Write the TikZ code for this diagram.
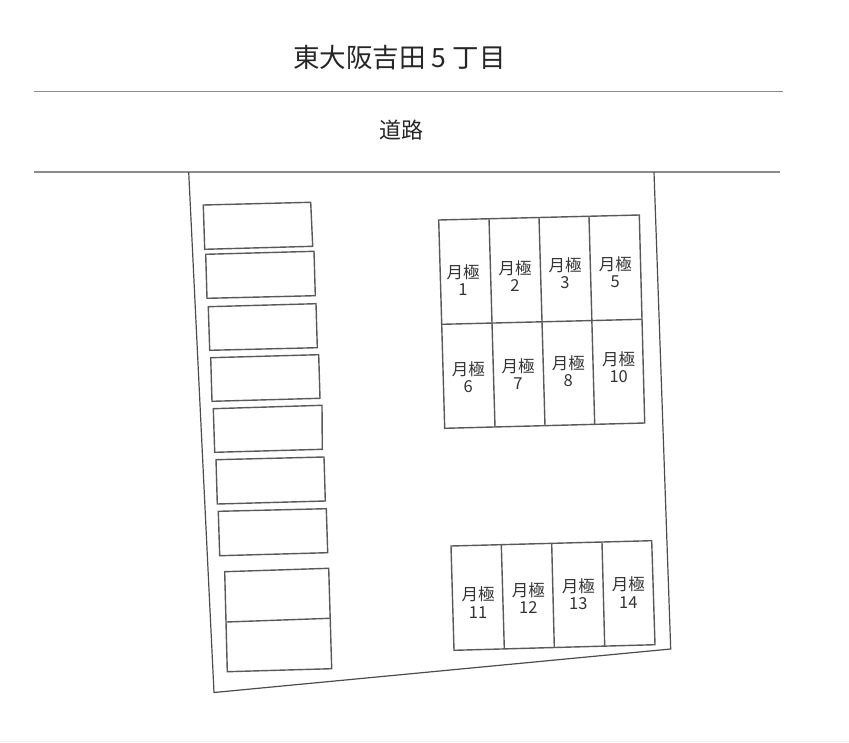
\documentclass[tikz,border=0pt]{standalone}
\usepackage{fontspec}
\newfontfamily\jpfont{Noto Sans CJK JP}
\begin{document}
\begin{tikzpicture}[x=1pt, y=-1pt]
\tikzstyle{road} = [draw = black!45, line width = 1.6pt]
\tikzstyle{plot} = [draw = black!70, line width = 1.2pt]
\tikzstyle{space} = [draw = black!65, line width = 1.4pt]
\tikzstyle{monthly} = [align = center, inner sep = 0pt, text = black!80, font = \jpfont\fontsize{16.5}{17.3}\selectfont]
\useasboundingbox (0, 0) rectangle (849, 742);
\fill[black!6] (0, 740.5) rectangle (849, 742);
\node[font = \jpfont\fontsize{26.5}{30}\selectfont, text = black!85, inner sep = 0pt] (title) at (399.5, 57.5) {東大阪吉田 5 丁目};
\node[font = \jpfont\fontsize{22}{26}\selectfont, text = black!85, inner sep = 0pt] (way) at (401, 130.5) {道路};
\draw[road] (34, 91.5)--(783, 91.5);
\draw[road] (34, 171.8)--(780, 171.8);
\draw[plot] (188.7, 172)--(214, 692.5)--(670.7, 649)--(654, 172);
% left spaces
\draw[space] (203.3, 205)--(310.7, 202.3)--(312.7, 246.3)--(204.7, 249.3)--cycle;
\draw[space] (205.7, 254.3)--(314, 251.3)--(315.3, 295.7)--(207, 298.3)--cycle;
\draw[space] (208.3, 306.7)--(316, 303.7)--(317.3, 347.7)--(209.7, 350.3)--cycle;
\draw[space] (210.7, 357.7)--(318.7, 354.7)--(320, 398.3)--(212, 401.3)--cycle;
\draw[space] (213.3, 408.7)--(322, 405.3)--(322.3, 449.3)--(214.7, 452.3)--cycle;
\draw[space] (216, 459.7)--(324, 457)--(325.3, 501)--(217.3, 504)--cycle;
\draw[space] (218.3, 511.3)--(326.3, 508.7)--(327.7, 552.7)--(219.7, 555.7)--cycle;
\draw[space] (224.7, 571.7)--(328.7, 568.3)--(331.7, 668.7)--(227.3, 671.7)--cycle;
\draw[space] (226.3, 622)--(329.7, 618.3);
% upper block
\draw[space] (438.7, 220)--(639.3, 215)--(644.7, 423)--(444.7, 428.3)--cycle;
\draw[space] (442, 324.3)--(642, 319.3);
\draw[space] (489, 218.7)--(495, 427);
\draw[space] (539, 217.3)--(545, 425.7);
\draw[space] (589, 216.3)--(594.7, 424.3);
% lower block
\draw[space] (451, 546)--(651.7, 540.7)--(655, 644.7)--(454, 650.3)--cycle;
\draw[space] (501.3, 544.7)--(504.3, 648.7);
\draw[space] (551.7, 543.7)--(554.3, 647.3);
\draw[space] (602, 542.3)--(604.7, 646);
% labels
\node[monthly] (m1) at (463, 280) {月極\\1};
\node[monthly] (m2) at (515, 276) {月極\\2};
\node[monthly] (m3) at (565, 273.5) {月極\\3};
\node[monthly] (m5) at (615.3, 272) {月極\\5};
\node[monthly] (m6) at (468.3, 377.5) {月極\\6};
\node[monthly] (m7) at (518, 374) {月極\\7};
\node[monthly] (m8) at (568.3, 371) {月極\\8};
\node[monthly] (m10) at (618.7, 367.5) {月極\\10};
\node[monthly] (m11) at (478, 602.5) {月極\\11};
\node[monthly] (m12) at (528.3, 598) {月極\\12};
\node[monthly] (m13) at (578.3, 594.5) {月極\\13};
\node[monthly] (m14) at (628.3, 592.5) {月極\\14};
\end{tikzpicture}
\end{document}
